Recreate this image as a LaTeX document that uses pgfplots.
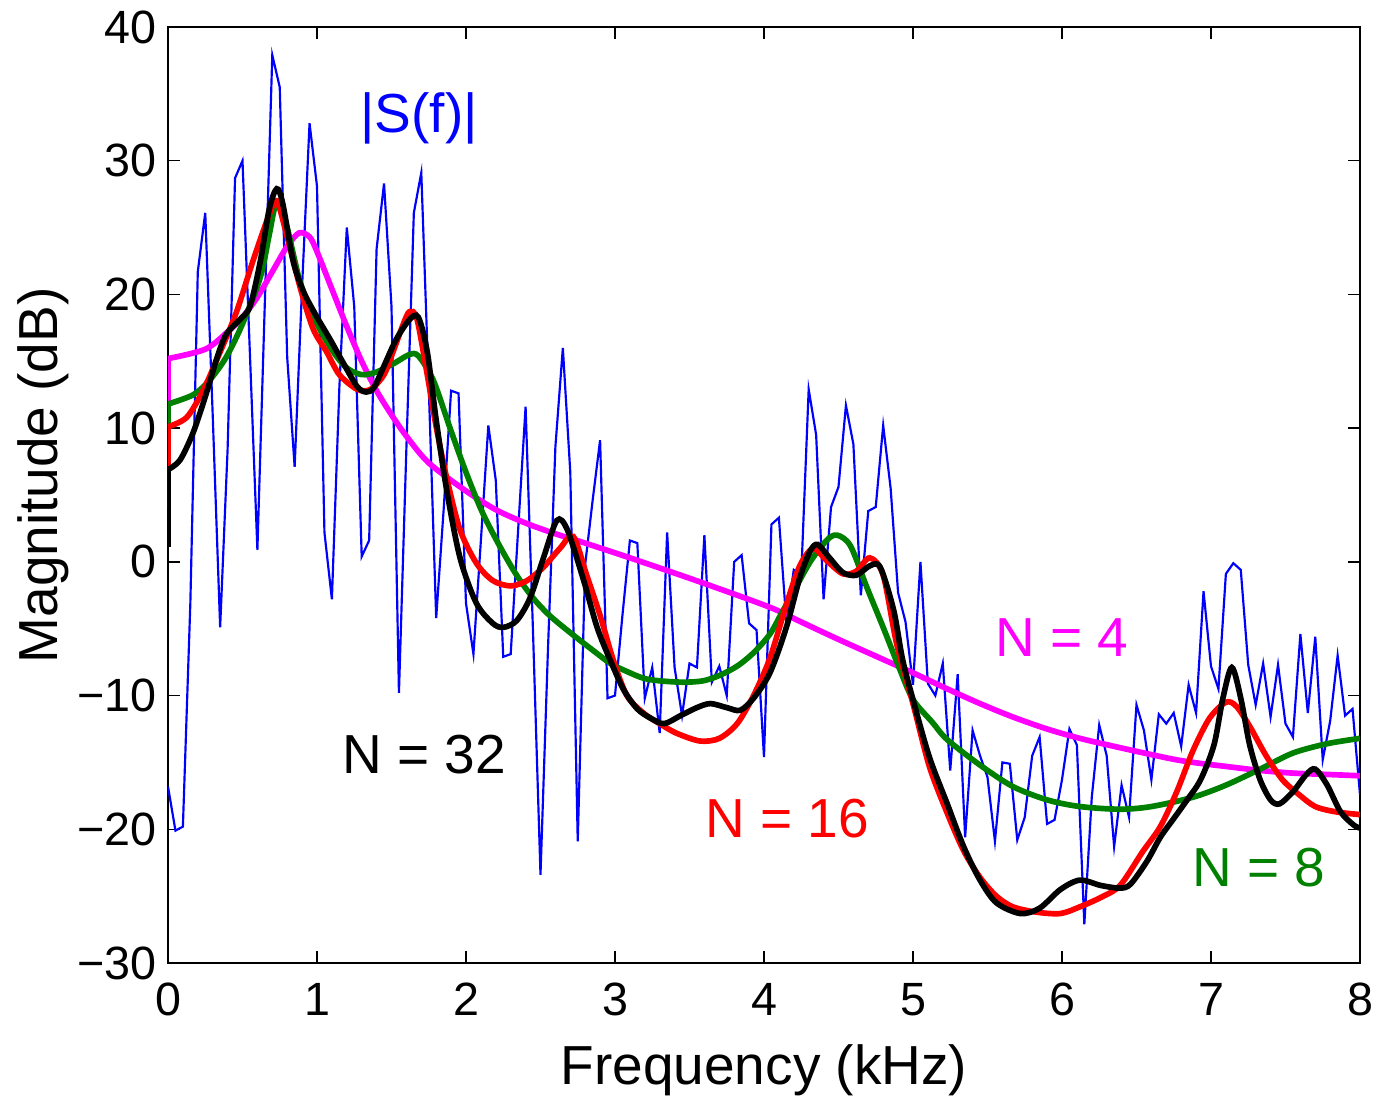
\documentclass[border=0pt]{standalone}
\usepackage{fontspec}
\setmainfont{Liberation Sans}
\usepackage{pgfplots}
\pgfplotsset{compat=1.18}
\definecolor{mgreen}{rgb}{0,0.5,0}
\definecolor{mmag}{rgb}{1,0,1}
\definecolor{mred}{rgb}{1,0,0}
\definecolor{mblue}{rgb}{0,0,1}
\begin{document}
\begin{tikzpicture}
\path[use as bounding box] (-50.4pt,-39.9pt) rectangle (362.4pt,288.9pt);
\begin{axis}[
 at={(0,0)}, anchor=south west,
 scale only axis, width=357.6pt, height=280.8pt,
 xmin=0, xmax=8, ymin=-30, ymax=40,
 xtick={0,1,...,8}, ytick={-30,-20,...,40},
 yticklabels={−30,−20,−10,0,10,20,30,40},
 /pgf/number format/assume math mode=true,
 tick align=inside, major tick length=3.5pt,
 tick style={black, line width=0.4pt},
 axis line style={line width=0.5pt},
 ticklabel style={font=\fontsize{14}{16}\selectfont},
 xticklabel style={yshift=-2.5pt},
 label style={font=\fontsize{16.5}{19}\selectfont},
 xlabel={Frequency (kHz)}, ylabel={Magnitude (dB)},
 xlabel style={at={(axis description cs:0.5,-0.1303)}, anchor=base},
 ylabel style={at={(axis description cs:-0.0923,0.521)}, anchor=base},
]
% |S(f)|
\addplot[mblue, line width=0.65pt] table {
0.00 -16.8
0.05 -20.1
0.10 -19.8
0.15 -3.1
0.20 21.7
0.25 26.1
0.30 11.0
0.35 -4.9
0.40 8.4
0.45 28.7
0.50 30.0
0.55 15.5
0.60 0.9
0.65 19.4
0.70 37.9
0.75 35.5
0.80 15.3
0.85 7.1
0.90 20.6
0.95 32.8
1.00 28.1
1.05 2.2
1.10 -2.8
1.15 13.0
1.20 25.0
1.25 19.1
1.30 0.4
1.35 1.6
1.40 23.4
1.45 28.3
1.50 19.1
1.55 -9.8
1.60 8.5
1.65 26.1
1.70 29.1
1.75 13.1
1.80 -4.2
1.85 3.9
1.90 12.8
1.95 12.6
2.00 -3.1
2.05 -6.9
2.10 1.6
2.15 10.2
2.20 6.1
2.25 -7.1
2.30 -6.9
2.35 2.4
2.40 11.6
2.45 -5.3
2.50 -23.4
2.55 -6.6
2.60 8.6
2.65 16.0
2.70 6.7
2.75 -20.9
2.80 -0.2
2.85 4.6
2.90 9.1
2.95 -10.2
3.00 -10.0
3.05 -4.0
3.10 1.6
3.15 1.4
3.20 -10.2
3.25 -7.9
3.30 -12.8
3.35 2.2
3.40 -7.9
3.45 -11.5
3.50 -7.6
3.55 -7.9
3.60 2.0
3.65 -9.0
3.70 -7.8
3.75 -10.0
3.80 0.0
3.85 0.5
3.90 -4.6
3.95 -5.1
4.00 -14.6
4.05 2.8
4.10 3.3
4.15 -4.5
4.20 -0.6
4.25 -1.0
4.30 12.9
4.35 9.5
4.40 -2.8
4.45 4.1
4.50 5.6
4.55 11.7
4.60 8.8
4.65 -2.5
4.70 3.8
4.75 4.1
4.80 10.2
4.85 5.5
4.90 -2.3
4.95 -4.5
5.00 -9.2
5.05 0.0
5.10 -9.1
5.15 -10.0
5.20 -7.6
5.25 -15.6
5.30 -8.4
5.35 -20.6
5.40 -12.6
5.45 -14.5
5.50 -16.1
5.55 -20.9
5.60 -15.0
5.65 -15.1
5.70 -20.8
5.75 -19.1
5.80 -14.5
5.85 -13.1
5.90 -19.6
5.95 -19.3
6.00 -16.3
6.05 -12.5
6.10 -13.7
6.15 -27.1
6.20 -17.6
6.25 -12.2
6.30 -14.5
6.35 -21.3
6.40 -16.7
6.45 -19.1
6.50 -10.7
6.55 -12.6
6.60 -16.3
6.65 -11.4
6.70 -12.1
6.75 -11.3
6.80 -13.8
6.85 -9.2
6.90 -11.3
6.95 -2.2
7.00 -7.8
7.05 -9.5
7.10 -0.9
7.15 -0.1
7.20 -0.6
7.25 -7.7
7.30 -10.7
7.35 -7.6
7.40 -11.6
7.45 -7.7
7.50 -12.1
7.55 -13.1
7.60 -5.4
7.65 -11.3
7.70 -5.6
7.75 -14.8
7.80 -11.9
7.85 -7.0
7.90 -11.5
7.95 -11.0
8.00 -17.4
};
% N = 4
\addplot[mmag, line width=1.7pt] coordinates {(0,10) (0,15.2)};
\addplot[mmag, line width=1.7pt, smooth] coordinates {
(0,15.2) (0.25,15.9) (0.4,17.2) (0.5,18.3) (0.6,19.8) (0.7,21.7) (0.8,23.6)
(0.88,24.6) (0.95,24.3) (1.0,23.2) (1.1,20.4) (1.2,17.6) (1.3,15.0) (1.4,12.8)
(1.5,11.0) (1.6,9.4) (1.75,7.4) (2.0,5.3) (2.2,3.9) (2.4,2.9) (2.6,2.1) (2.8,1.4)
(3.1,0.3) (3.57,-1.5) (4.04,-3.4) (4.25,-4.5) (4.5,-5.8) (4.78,-7.2)
(5.0,-8.3) (5.23,-9.5) (5.45,-10.6) (5.67,-11.6) (5.9,-12.5) (6.12,-13.2)
(6.39,-13.9) (6.72,-14.7) (6.88,-15.0) (7.1,-15.3) (7.33,-15.6) (7.55,-15.8)
(7.78,-15.9) (8.0,-16.0)
};
% N = 8
\addplot[mgreen, line width=1.7pt] coordinates {(0,9) (0,11.8)};
\addplot[mgreen, line width=1.7pt, smooth] coordinates {
(0,11.8) (0.17,12.5) (0.28,13.6) (0.39,15.3) (0.5,17.8) (0.62,21.3) (0.68,24.5)
(0.72,26.6) (0.76,26.3) (0.8,25.0) (0.89,20.8) (1.0,17.8) (1.11,15.7) (1.2,14.5)
(1.3,14.0) (1.4,14.2) (1.51,14.8) (1.62,15.5) (1.68,15.4) (1.78,13.6) (1.89,10.1)
(2.0,6.7) (2.11,3.7) (2.23,1.1) (2.34,-1.0) (2.45,-2.7) (2.56,-4.0) (2.7,-5.3)
(2.85,-6.6) (2.97,-7.6) (3.08,-8.2) (3.19,-8.7) (3.3,-8.9) (3.46,-9.0) (3.59,-8.9)
(3.7,-8.5) (3.82,-7.8) (3.93,-6.8) (4.04,-5.4) (4.12,-3.8) (4.2,-2.2) (4.31,0.0)
(4.42,1.6) (4.49,2.0) (4.58,1.2) (4.69,-1.9) (4.8,-4.9) (4.91,-8.0) (5.0,-10.3)
(5.13,-12.0) (5.23,-13.3) (5.45,-15.2) (5.67,-16.8) (5.9,-17.8) (6.12,-18.3)
(6.39,-18.5) (6.6,-18.3) (6.88,-17.6) (7.1,-16.7) (7.33,-15.5) (7.55,-14.3)
(7.78,-13.6) (8.0,-13.2)
};
% N = 16
\addplot[mred, line width=1.7pt] coordinates {(0,4) (0,10.1)};
\addplot[mred, line width=1.7pt, smooth] coordinates {
(0,10.1) (0.125,10.8) (0.235,12.8) (0.35,15.7) (0.46,18.7) (0.57,22.5) (0.68,26.0)
(0.73,27.0) (0.8,24.3) (0.89,20.4) (0.975,17.4) (1.065,15.7) (1.15,14.0)
(1.27,12.9) (1.36,12.9) (1.45,14.0) (1.51,15.7) (1.58,17.8) (1.62,18.7) (1.67,18.2)
(1.74,14.0) (1.8,10.1) (1.87,6.3) (1.96,2.4) (2.07,-0.1) (2.18,-1.4) (2.3,-1.8)
(2.41,-1.4) (2.52,-0.4) (2.63,1.0) (2.72,1.9) (2.81,-1.0) (2.9,-4.0) (2.99,-7.4)
(3.08,-10.0) (3.19,-11.3) (3.3,-12.1) (3.41,-12.8) (3.57,-13.4) (3.7,-13.2)
(3.82,-12.1) (3.93,-10.0) (4.04,-7.2) (4.15,-3.2) (4.24,-0.3) (4.33,1.0) (4.42,0.1)
(4.53,-0.9) (4.62,-0.7) (4.71,0.3) (4.8,-1.0) (4.89,-6.1) (5.0,-10.6) (5.11,-15.3)
(5.23,-18.8) (5.34,-21.6) (5.45,-23.6) (5.56,-25.0) (5.67,-25.8) (5.83,-26.2)
(5.99,-26.3) (6.12,-25.8) (6.26,-25.1) (6.39,-24.2) (6.54,-21.7) (6.66,-19.8)
(6.77,-17.2) (6.88,-14.1) (6.99,-11.7) (7.1,-10.5) (7.17,-10.8) (7.26,-12.3)
(7.37,-14.5) (7.48,-16.3) (7.59,-17.4) (7.7,-18.3) (7.84,-18.7) (8.0,-18.9)
};
% N = 32
\addplot[black, line width=1.7pt] coordinates {(0,1.1) (0,6.9)};
\addplot[black, line width=1.7pt, smooth] coordinates {
(0,6.9) (0.08,7.6) (0.17,9.7) (0.26,12.7) (0.33,15.3) (0.39,17.0) (0.48,18.1)
(0.55,19.1) (0.62,22.5) (0.68,26.4) (0.73,27.9) (0.77,26.8) (0.84,22.5) (0.91,20.2)
(1.0,18.3) (1.09,16.6) (1.18,14.8) (1.27,13.1) (1.33,12.7) (1.38,13.0) (1.44,14.4)
(1.53,16.6) (1.62,18.1) (1.68,18.3) (1.74,15.7) (1.8,10.6) (1.87,5.4) (1.96,0.3)
(2.07,-3.1) (2.18,-4.6) (2.25,-4.9) (2.34,-4.4) (2.43,-2.7) (2.52,0.3) (2.61,3.1)
(2.68,2.4) (2.79,-1.4) (2.88,-4.9) (2.97,-7.4) (3.06,-9.6) (3.15,-11.0) (3.24,-11.7)
(3.33,-12.1) (3.44,-11.5) (3.55,-10.9) (3.64,-10.6) (3.75,-10.9) (3.84,-11.1)
(3.93,-10.2) (4.04,-8.3) (4.15,-4.9) (4.24,-1.2) (4.31,0.8) (4.36,1.3) (4.44,0.3)
(4.53,-0.8) (4.62,-1.0) (4.71,-0.3) (4.78,-0.4) (4.87,-3.6) (4.93,-7.3) (5.0,-10.3)
(5.11,-14.6) (5.23,-18.1) (5.34,-21.3) (5.45,-23.8) (5.56,-25.5) (5.72,-26.3)
(5.85,-25.9) (5.99,-24.5) (6.12,-23.8) (6.26,-24.2) (6.39,-24.4) (6.46,-24.1)
(6.57,-22.4) (6.66,-20.6) (6.75,-19.2) (6.84,-17.8) (6.93,-16.3) (7.02,-13.7)
(7.08,-10.2) (7.14,-7.9) (7.2,-10.2) (7.26,-13.7) (7.33,-16.3) (7.4,-17.8)
(7.46,-18.1) (7.55,-17.2) (7.64,-15.9) (7.7,-15.5) (7.78,-16.7) (7.87,-18.7)
(7.96,-19.7) (8.0,-19.9)
};
\node[mblue, font=\fontsize{16.5}{19}\selectfont, anchor=center, inner sep=0pt] at (axis cs:1.685,33.2) {|S(f)|};
\node[black, font=\fontsize{16.5}{19}\selectfont, anchor=base, inner sep=0pt] at (axis cs:1.718,-15.8) {N = 32};
\node[mred, font=\fontsize{16.5}{19}\selectfont, anchor=base, inner sep=0pt] at (axis cs:4.154,-20.6) {N = 16};
\node[mmag, font=\fontsize{16.5}{19}\selectfont, anchor=base, inner sep=0pt] at (axis cs:6.0,-7.1) {N = 4};
\node[mgreen, font=\fontsize{16.5}{19}\selectfont, anchor=base, inner sep=0pt] at (axis cs:7.32,-24.3) {N = 8};
\end{axis}
\end{tikzpicture}
\end{document}
